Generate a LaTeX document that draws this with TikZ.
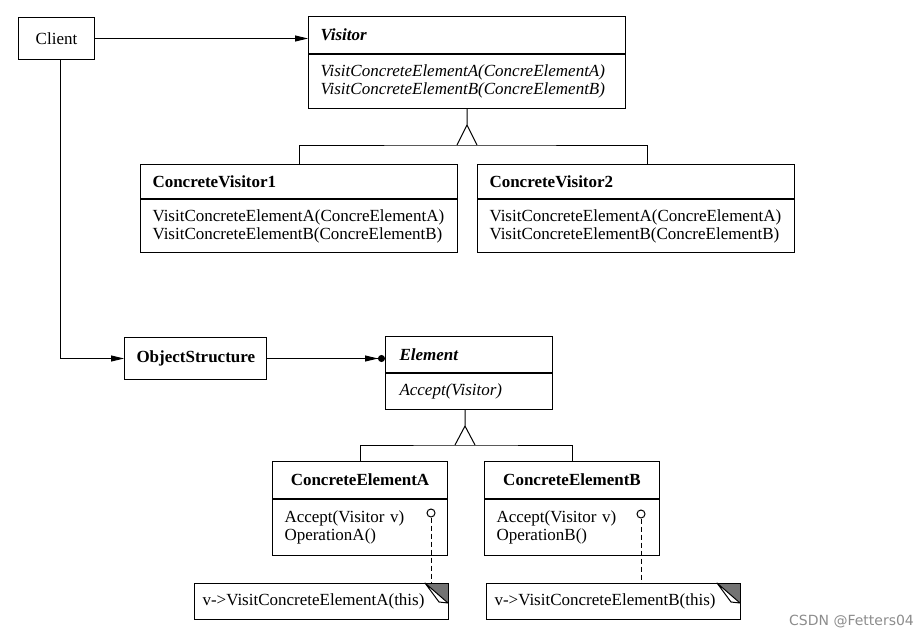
\documentclass[tikz,border=0pt]{standalone}
\usepackage{fontspec}
\setmainfont{Liberation Serif}
\newfontfamily\marksans{DejaVu Sans}
\usetikzlibrary{positioning,arrows.meta}

\begin{document}
\begin{tikzpicture}[x=0.5pt, y=-0.5pt, line width=0.5pt,
    every node/.style={font=\fontsize{8.5}{9}\selectfont},
    part/.style={draw, anchor=north west, inner xsep=6pt, inner ysep=0pt, align=left},
    title/.style={part, font=\fontsize{8.5}{9}\selectfont\bfseries},
    ops/.style={part, font=\fontsize{8.5}{9}\selectfont\itshape},
    hook/.style={draw, circle, fill=white, inner sep=0pt, minimum size=4pt},
    note/.style={anchor=north west, inner xsep=4pt, inner ysep=0pt, minimum height=17.5pt, text width=118.5pt, align=left},
    tip/.style={-{Triangle[length=6.5pt,width=3pt]}}]
    \useasboundingbox (0,0) rectangle (916,637);
    \node[part, align=center, text width=26pt, minimum height=21pt] (client) at (18,17) {Client};
    \node[title, text width=146.5pt, minimum height=18.5pt] (visitor) at (308,16) {\itshape Visitor};
    \node[ops, text width=146.5pt, minimum height=27pt, below=0pt of visitor] (visitorops) {VisitConcreteElementA(ConcreElementA)\\VisitConcreteElementB(ConcreElementB)};
    \node[title, text width=146.5pt, minimum height=17pt] (cv1) at (140,164) {ConcreteVisitor1};
    \node[part, text width=146.5pt, minimum height=26.5pt, below=0pt of cv1] (cv1ops) {VisitConcreteElementA(ConcreElementA)\\VisitConcreteElementB(ConcreElementB)};
    \node[title, text width=146.5pt, minimum height=17pt] (cv2) at (477,164) {ConcreteVisitor2};
    \node[part, text width=146.5pt, minimum height=26.5pt, below=0pt of cv2] (cv2ops) {VisitConcreteElementA(ConcreElementA)\\VisitConcreteElementB(ConcreElementB)};
    \node[title, align=center, text width=59pt, minimum height=21pt] (objstruct) at (124,337) {ObjectStructure};
    \node[title, inner xsep=7pt, text width=69.5pt, minimum height=18pt] (element) at (385,336) {\itshape Element};
    \node[ops, inner xsep=7pt, text width=69.5pt, minimum height=18pt, below=0pt of element] (elementops) {Accept(Visitor)};
    \node[title, align=center, text width=75.5pt, minimum height=18.5pt] (elemA) at (272,461) {ConcreteElementA};
    \node[part, text width=75.5pt, minimum height=28pt, below=0pt of elemA] (elemAops) {Accept(Visitor v)\\OperationA()};
    \node[title, align=center, text width=75.5pt, minimum height=18.5pt] (elemB) at (484,461) {ConcreteElementB};
    \node[part, text width=75.5pt, minimum height=28pt, below=0pt of elemB] (elemBops) {Accept(Visitor v)\\OperationB()};
    \node[note] (noteA) at (194,583) {v->VisitConcreteElementA(this)};
    \node[note] (noteB) at (486,583) {v->VisitConcreteElementB(this)};
    \node[text=black!45, font=\marksans\fontsize{7}{8}\selectfont, anchor=west] (mark) at (782,622) {CSDN @Fetters04};

    \draw[tip] (client.east) -- (client.east -| visitor.west);
    \draw[tip] ([xshift=2pt]client.south) |- (objstruct.west);
    \draw[-{Triangle[length=6.5pt,width=3pt] Circle[length=3.5pt]}] (objstruct.east) -- (objstruct.east -| element.west);

    \coordinate (vapex) at ([yshift=-8pt]visitorops.south);
    \coordinate (vbar) at ([yshift=-18pt]visitorops.south);
    \draw (visitorops.south) -- (vapex) -- ([xshift=-5pt]vbar) (vapex) -- ([xshift=5pt]vbar);
    \draw (cv1.north) |- (vbar) -| ([xshift=5.5pt]cv2.north);

    \coordinate (eapex) at ([xshift=-2pt,yshift=-8pt]elementops.south);
    \coordinate (ebar) at ([xshift=-2pt,yshift=-17.5pt]elementops.south);
    \draw ([xshift=-2pt]elementops.south) -- (eapex) -- ([xshift=-5pt]ebar) (eapex) -- ([xshift=5pt]ebar);
    \draw (elemA.north) |- (ebar) -| (elemB.north);

    \node[hook] (hookA) at (431,513) {};
    \node[hook] (hookB) at (641,514) {};
    \draw[dash pattern=on 2.5pt off 1.5pt] (hookA) -- (hookA |- noteA.north);
    \draw[dash pattern=on 2.5pt off 1.5pt] (hookB) -- (hookB |- noteB.north);

    \foreach \n in {noteA,noteB}{
        \fill[black!55] ([xshift=-11.5pt]\n.north east) -- (\n.north east) -- ([yshift=-10pt]\n.north east) -- cycle;
        \draw (\n.south west) rectangle (\n.north east);
        \draw[fill=white, line join=round] ([xshift=-11.5pt]\n.north east) -- ([xshift=-4.5pt,yshift=-9.5pt]\n.north east) -- ([yshift=-10pt]\n.north east) -- cycle;
    }
\end{tikzpicture}
\end{document}
